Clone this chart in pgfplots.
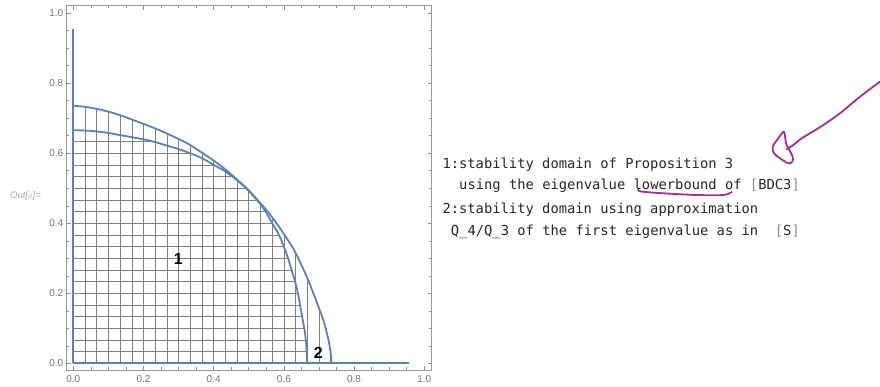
\documentclass[border=0pt]{standalone}
\usepackage{pgfplots}
\pgfplotsset{compat=1.18}
\usepackage{fontspec}
\setmainfont{Liberation Sans}
\newfontfamily\monofont{DejaVu Sans Mono}
\definecolor{mblue}{HTML}{5E81B5}
\definecolor{anno}{HTML}{A2308F}
\begin{document}
\begin{tikzpicture}
\useasboundingbox (0,0) rectangle (880pt,387pt);
\begin{axis}[
  at={(66.7pt,17pt)}, anchor=south west,
  scale only axis, width=365pt, height=364.3pt,
  xmin=-0.0188, xmax=1.0211, ymin=-0.0191, ymax=1.0217,
  xtick={0,0.2,0.4,0.6,0.8,1}, ytick={0,0.2,0.4,0.6,0.8,1},
  minor tick num=3,
  tick align=inside,
  major tick length=4pt, minor tick length=2.5pt,
  axis line style={black!40, line width=0.8pt},
  every tick/.style={black!45, line width=0.6pt},
  tick label style={font=\fontsize{10}{12}\selectfont, text=black!55},
  xticklabel style={yshift=-2pt},
  clip=false,
  /pgf/number format/fixed,
  /pgf/number format/fixed zerofill,
  /pgf/number format/precision=1,
  /pgf/number format/assume math mode=true,
]
% mesh of region 2: vertical lines up to the outer curve
\addplot[black!50, line width=0.6pt, ycomb, mark=none] coordinates {
  (0.0333,0.7327) (0.0667,0.7270) (0.1000,0.7190) (0.1333,0.7090)
  (0.1667,0.6965) (0.2000,0.6840) (0.2333,0.6710) (0.2667,0.6564)
  (0.3000,0.6410) (0.3333,0.6235) (0.3667,0.6017) (0.4000,0.5792)
  (0.4333,0.5540) (0.4667,0.5247) (0.5000,0.4940) (0.5333,0.4600)
  (0.5667,0.4180) (0.6000,0.3690) (0.6333,0.3100) (0.6667,0.2380)
  (0.7000,0.1500) (0.7333,0.0300)
};
% mesh of region 1: horizontal lines up to the inner curve
\addplot[black!50, line width=0.6pt, xcomb, mark=none] coordinates {
  (0.6650,0.0333) (0.6625,0.0667) (0.6580,0.1000) (0.6520,0.1333)
  (0.6460,0.1667) (0.6400,0.2000) (0.6320,0.2333) (0.6220,0.2667)
  (0.6120,0.3000) (0.6000,0.3333) (0.5860,0.3667) (0.5670,0.4000)
  (0.5480,0.4333) (0.5230,0.4667) (0.4930,0.5000) (0.4529,0.5333)
  (0.4005,0.5667) (0.3333,0.6000) (0.2280,0.6333)
};
% outer boundary (region 2)
\addplot[mblue, line width=1.8pt, smooth, mark=none, line cap=round] coordinates {
  (0,0.736) (0.0333,0.7327) (0.0667,0.727) (0.1,0.719) (0.1333,0.709)
  (0.1667,0.6965) (0.2,0.684) (0.2333,0.671) (0.2667,0.6564) (0.3,0.641)
  (0.3333,0.6235) (0.3667,0.6017) (0.4,0.5792) (0.4333,0.554) (0.4667,0.5247)
  (0.497,0.497) (0.5247,0.4667) (0.554,0.4333) (0.5792,0.4) (0.6017,0.3667)
  (0.6235,0.3333) (0.641,0.3) (0.6564,0.2667) (0.671,0.2333) (0.684,0.2)
  (0.6965,0.1667) (0.709,0.1333) (0.719,0.1) (0.727,0.0667) (0.7327,0.0333)
  (0.736,0)
};
% inner boundary (region 1)
\addplot[mblue, line width=1.8pt, smooth, mark=none, line cap=round] coordinates {
  (0,0.666) (0.0333,0.665) (0.0667,0.6625) (0.1,0.658) (0.1333,0.652)
  (0.1667,0.646) (0.2,0.64) (0.2333,0.632) (0.2667,0.622) (0.3,0.612)
  (0.3333,0.6) (0.3667,0.586) (0.4,0.567) (0.4333,0.548) (0.4667,0.523)
  (0.496,0.496) (0.523,0.4667) (0.548,0.4333) (0.567,0.4) (0.586,0.3667)
  (0.6,0.3333) (0.612,0.3) (0.622,0.2667) (0.632,0.2333) (0.64,0.2)
  (0.646,0.1667) (0.652,0.1333) (0.658,0.1) (0.6625,0.0667) (0.665,0.0333)
  (0.666,0)
};
% boundary pieces on the axes
\addplot[mblue, line width=1.9pt, mark=none] coordinates {(0,0) (0,0.955)};
\addplot[mblue, line width=1.9pt, mark=none] coordinates {(0,0) (0.955,0)};
\node[font=\bfseries\fontsize{16}{16}\selectfont] at (axis cs:0.2994,0.297) {1};
\node[font=\bfseries\fontsize{16}{16}\selectfont] at (axis cs:0.698,0.030) {2};
\end{axis}
\begin{scope}[shift={(0pt,387pt)}, x=1pt, y=-1pt]
  \node[font=\itshape\fontsize{9.5}{10}\selectfont, text=black!35] at (25.5,196) {Out[$\circ$]=};
  \begin{scope}[every node/.style={anchor=base west, inner sep=0pt,
      font=\monofont\fontsize{13.8}{16}\selectfont, text=black!85}]
    \node at (442.3,168.3) {1:stability domain of Proposition 3};
    \node at (459.0,190.0) {using the eigenvalue lowerbound of {\color{black!45}[}BDC3{\color{black!45}]}};
    \node at (442.3,213.3) {2:stability domain using approximation};
    \node at (450.7,235.7) {Q\_4/Q\_3 of the first eigenvalue as in\ \ {\color{black!45}[}S{\color{black!45}]}};
  \end{scope}
  \begin{scope}[anno, line width=1.8pt, line cap=round, line join=round]
    \draw plot[smooth] coordinates {(880,81.7) (860,96.7) (840,113.3) (823.3,125)
      (810,133.3) (801.7,138.3) (793.3,145) (786.7,149.3)};
    \draw plot[smooth cycle] coordinates {(784,131.7) (778.3,138.3) (772.7,146.7)
      (774,153.3) (780,158.3) (788.3,163.3) (792.3,161.7) (792.7,156.7)
      (789.3,150) (786,143.3)};
    \draw plot[smooth] coordinates {(638.3,189.3) (641,191.5) (663.3,193.3)
      (696.7,195) (723.3,195) (731.7,192)};
  \end{scope}
\end{scope}
\end{tikzpicture}
\end{document}
